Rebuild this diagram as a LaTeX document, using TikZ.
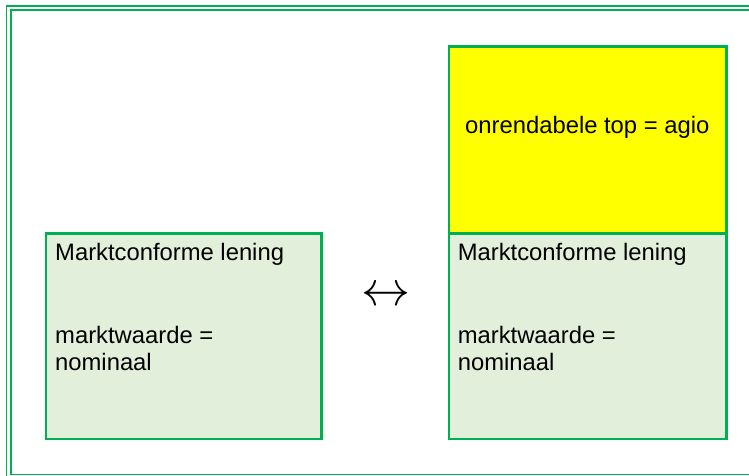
\documentclass[tikz,border=0pt]{standalone}
\usepackage{graphicx}
\usepackage{fontspec}
\setmainfont{Liberation Sans}
\definecolor{framegreen}{HTML}{00B050}
\definecolor{boxfill}{HTML}{E2EFDA}
\definecolor{agioyellow}{HTML}{FFFF00}
\begin{document}
\begin{tikzpicture}[x=1pt,y=-1pt,
  boxstyle/.style={draw=framegreen,line width=2.6pt,inner sep=0pt,rectangle},
  lentext/.style={inner sep=0pt,anchor=base west,align=left,font=\fontsize{23.8}{27.4}\selectfont},
  frameline/.style={draw=framegreen,line width=1.4pt}]
\useasboundingbox (0,0) rectangle (749,475);
\clip (0,0) rectangle (749,475);
\fill[white] (0,0) rectangle (749,475);
% double frame
\draw[frameline] (6.6,5.9) rectangle (756,478.5);
\draw[frameline] (10.8,9.9) rectangle (751.5,474.3);
% left box
\node[boxstyle,fill=boxfill,minimum width=275.5pt,minimum height=205.2pt] (lbox) at (183.85,336.3) {};
% right boxes
\node[boxstyle,fill=agioyellow,minimum width=277.1pt,minimum height=186.9pt] (top) at (587.65,139.85) {};
\node[boxstyle,fill=boxfill,minimum width=277.1pt,minimum height=205.6pt] (rbox) at (587.65,336.1) {};
% texts
\node[lentext] (ltitle) at (55,260) {Marktconforme lening};
\node[lentext] (lvalue) at (55,370.7) {marktwaarde =\\nominaal};
\node[lentext] (rtitle) at (457.6,260) {Marktconforme lening};
\node[lentext] (rvalue) at (457.6,370.7) {marktwaarde =\\nominaal};
\node[inner sep=0pt,anchor=base,font=\fontsize{23.8}{27.4}\selectfont] (agio) at (587.3,133.3) {onrendabele top = agio};
% equivalence arrow
\node[inner sep=0pt] (eq) at (385.5,297) {\scalebox{4.9}{$\leftrightarrow$}};
\end{tikzpicture}
\end{document}
